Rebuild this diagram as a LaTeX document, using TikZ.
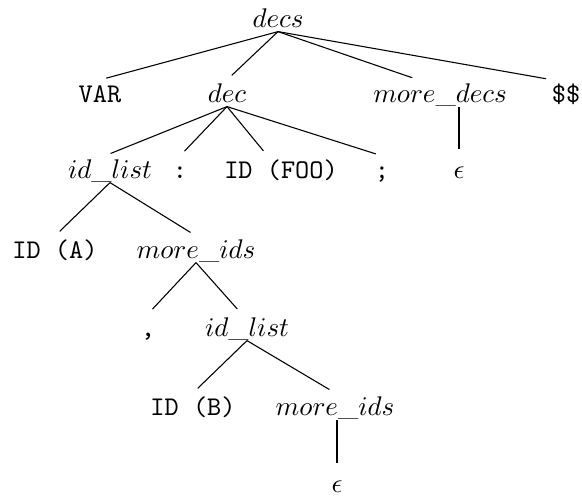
\documentclass[tikz,border=0pt]{standalone}

\begin{document}
\begin{tikzpicture}[
		x=0.3704pt, y=-0.3704pt,
		shorten >=2.4pt,
		sym/.style = {anchor=base, inner sep=1pt, text height=7pt, text depth=0.5pt}
	]
	\useasboundingbox (0,0) rectangle (582,495);
	\node[sym] (decs) at (278,27) {$decs$};
	\node[sym] (var) at (100,102) {\texttt{VAR}};
	\node[sym] (dec) at (227,102) {$dec$};
	\node[sym] (mdecs) at (440,102) {$more\_decs$};
	\node[sym] (dollar) at (566,102) {\texttt{\$\$}};
	\node[sym] (idl) at (110,178) {$id\_list$};
	\node[sym] (colon) at (180,178) {\texttt{:}};
	\node[sym] (idfoo) at (281,178) {\texttt{ID (FOO)}};
	\node[sym] (semi) at (382,178) {\texttt{;}};
	\node[sym] (eps) at (459,178) {$\epsilon$};
	\node[sym] (ida) at (55,258) {\texttt{ID (A)}};
	\node[sym] (mids) at (196,258) {$more\_ids$};
	\node[sym] (comma) at (148,336) {\texttt{,}};
	\node[sym] (idlb) at (247,336) {$id\_list$};
	\node[sym] (idb) at (193,415) {\texttt{ID (B)}};
	\node[sym] (midsb) at (335,415) {$more\_ids$};
	\node[sym] (epsb) at (337,492) {$\epsilon$};
	\draw (decs.south) to (var.north);
	\draw (decs.south) to (dec.north);
	\draw (decs.south) to ([xshift=-8pt]mdecs.north);
	\draw (decs.south) to ([xshift=-5pt]dollar.north);
	\draw (dec.south) to ([xshift=-2pt]idl.north);
	\draw (dec.south) to (colon.north);
	\draw (dec.south) to ([xshift=-5pt]idfoo.north);
	\draw (dec.south) to (semi.north);
	\draw (eps.north |- mdecs.south) to (eps.north);
	\draw (idl.south) to (ida.north);
	\draw (idl.south) to (mids.north);
	\draw (mids.south) to (comma.north);
	\draw (mids.south) to ([xshift=-2pt]idlb.north);
	\draw (idlb.south) to (idb.north);
	\draw (idlb.south) to (midsb.north);
	\draw (epsb.north |- midsb.south) to (epsb.north);
\end{tikzpicture}
\end{document}
